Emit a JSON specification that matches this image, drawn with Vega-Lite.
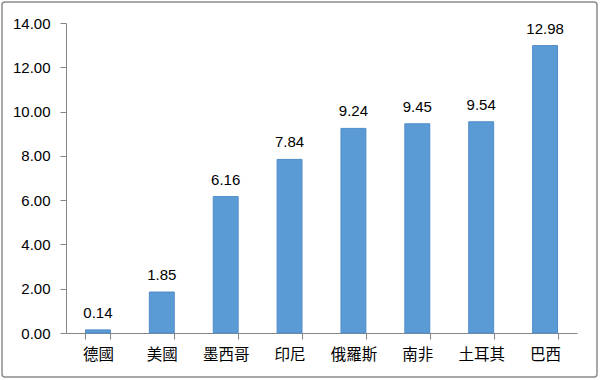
{
  "$schema": "https://vega.github.io/schema/vega-lite/v6.json",
  "width": 595,
  "height": 375,
  "padding": 2,
  "background": "white",
  "data": {"values": [
    {"country": "德國", "value": 0.14},
    {"country": "美國", "value": 1.85},
    {"country": "墨西哥", "value": 6.16},
    {"country": "印尼", "value": 7.84},
    {"country": "俄羅斯", "value": 9.24},
    {"country": "南非", "value": 9.45},
    {"country": "土耳其", "value": 9.54},
    {"country": "巴西", "value": 12.98}
  ]},
  "encoding": {
    "x": {"field": "country", "type": "nominal", "sort": null,
      "scale": {"range": [64, 575], "paddingInner": 0.61, "paddingOuter": 0.305},
      "axis": {"title": null, "offset": -44, "labelAngle": 0, "tickBand": "extent",
        "domainColor": "#868686", "tickColor": "#868686", "tickSize": 6,
        "labelFont": "Noto Sans CJK TC", "labelFontSize": 15.5, "labelColor": "#000000", "labelPadding": 8}},
    "y": {"field": "value", "type": "quantitative",
      "scale": {"domain": [0, 14], "range": [331, 21], "nice": false},
      "axis": {"title": null, "offset": -64, "values": [0, 2, 4, 6, 8, 10, 12, 14], "format": ".2f",
        "grid": false, "domainColor": "#868686", "tickColor": "#868686", "tickSize": 6,
        "labelFont": "Liberation Sans", "labelFontSize": 15, "labelColor": "#000000", "labelPadding": 10}}
  },
  "layer": [
    {"mark": {"type": "bar", "fill": "#5B9BD5", "stroke": "#4F8CC9", "strokeWidth": 1}},
    {"mark": {"type": "text", "baseline": "bottom", "dy": -9, "font": "Liberation Sans", "fontSize": 15, "color": "#000000"},
      "encoding": {"text": {"field": "value", "type": "quantitative", "format": ".2f"}}}
  ],
  "config": {"view": {"stroke": "#8C8C8C", "strokeWidth": 1.5, "cornerRadius": 3}}
}
